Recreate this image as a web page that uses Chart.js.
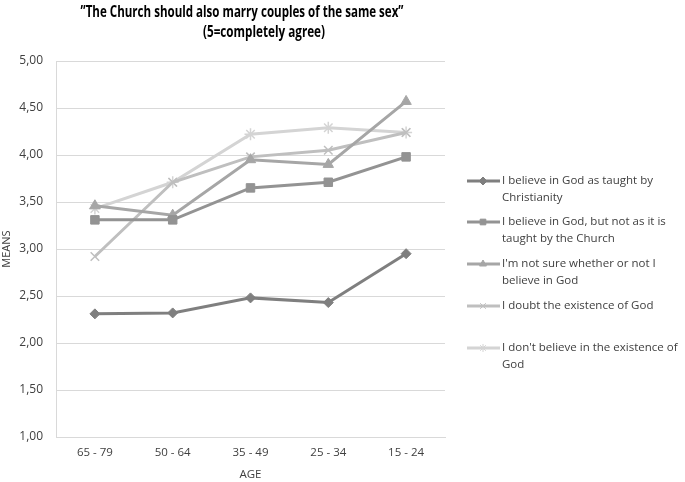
<!DOCTYPE html>
<html>
<head>
<meta charset="utf-8">
<script src="https://cdn.jsdelivr.net/npm/chart.js@4.4.1/dist/chart.umd.min.js"></script>
<style>
  html, body { margin: 0; padding: 0; background: #fff; }
  #wrap { width: 685px; height: 482px; }
</style>
</head>
<body>
<div id="wrap"><canvas id="line_chart" width="685" height="482"></canvas></div>
<script>
var ages = ['65 - 79', '50 - 64', '35 - 49', '25 - 34', '15 - 24'];
var seriesNames = [
    ['I believe in God as taught by', 'Christianity'],
    ['I believe in God, but not as it is', 'taught by the Church'],
    ["I'm not sure whether or not I", 'believe in God'],
    ['I doubt the existence of God'],
    ["I don't believe in the existence of", 'God']
];
var godTaught = [2.31, 2.32, 2.48, 2.43, 2.95];
var godNotChurch = [3.31, 3.31, 3.65, 3.71, 3.98];
var notSure = [3.46, 3.36, 3.95, 3.90, 4.57];
var doubtGod = [2.92, 3.71, 3.98, 4.05, 4.24];
var noGod = [3.43, 3.71, 4.22, 4.29, 4.24];
var yTicks = [1, 1.5, 2, 2.5, 3, 3.5, 4, 4.5, 5];

var colors = ['#7f7f7f', '#939393', '#a6a6a6', '#bfbfbf', '#d4d4d4'];
var styles = ['rectRot', 'rect', 'triangle', 'crossRot', 'star'];
var sizes = [5, 6, 6, 6, 6];
var fontName = "'Open Sans', 'Liberation Sans', sans-serif";

function makeSet(i, values){
    return {
        label: seriesNames[i].join(' '),
        data: values,
        borderColor: colors[i],
        backgroundColor: colors[i],
        pointStyle: styles[i],
        pointRadius: sizes[i],
        pointHoverRadius: sizes[i],
        pointBorderWidth: (styles[i] === 'crossRot' || styles[i] === 'star') ? 1.5 : 1,
        borderWidth: 3,
        tension: 0
    };
}

// text squeezed to a given width, the original title font is a narrow one
function fitText(ctx, text, cx, cy, w){
    var m = ctx.measureText(text).width;
    ctx.save();
    ctx.translate(cx, cy);
    ctx.scale(w / m, 1);
    ctx.fillText(text, 0, 0);
    ctx.restore();
}

// titles and legend drawn by hand, like the original Excel chart
var sideLegend = {
    id: 'sideLegend',
    afterDraw: function(chart){
        var ctx = chart.ctx;
        ctx.save();
        ctx.fillStyle = '#000';
        ctx.textAlign = 'center';
        ctx.textBaseline = 'middle';
        ctx.font = 'bold 16px ' + fontName;
        fitText(ctx, '\u201DThe Church should also marry couples of the same sex\u201D', 242, 12, 323);
        fitText(ctx, '(5=completely agree)', 264, 32, 122);

        var rows = [181, 222, 264, 306, 348];
        ctx.font = '11.5px ' + fontName;
        ctx.textAlign = 'left';
        chart.data.datasets.forEach(function(ds, i){
            var y = rows[i];
            ctx.strokeStyle = ds.borderColor;
            ctx.fillStyle = ds.backgroundColor;
            ctx.lineWidth = 3;
            ctx.beginPath();
            ctx.moveTo(467, y);
            ctx.lineTo(500, y);
            ctx.stroke();
            ctx.lineWidth = 1;
            Chart.helpers.drawPoint(ctx, {
                pointStyle: ds.pointStyle, radius: 4, rotation: 0,
                borderWidth: ds.pointBorderWidth
            }, 483, y);
            ctx.fillStyle = '#404040';
            seriesNames[i].forEach(function(t, k){
                ctx.fillText(t, 502, y + k * 17);
            });
        });
        ctx.restore();
    }
};

var config = {
    type: 'line',
    data: {
        labels: ages,
        datasets: [
            makeSet(0, godTaught),
            makeSet(1, godNotChurch),
            makeSet(2, notSure),
            makeSet(3, doubtGod),
            makeSet(4, noGod)
        ]
    },
    options: {
        responsive: false,
        animation: false,
        devicePixelRatio: 1,
        layout: { padding: { left: 0, top: 61, right: 240, bottom: 0 } },
        plugins: {
            legend: { display: false },
            title: { display: false },
            tooltip: { enabled: false }
        },
        scales: {
            x: {
                offset: true,
                grid: { display: false, drawTicks: false },
                border: { color: '#d9d9d9' },
                ticks: { color: '#404040', font: { family: fontName, size: 11.5 }, padding: 9 },
                title: { display: true, text: 'AGE', color: '#404040', font: { family: fontName, size: 11.5 }, padding: { top: 3, bottom: 0 } },
                afterFit: function(s){ s.height = 45; }
            },
            y: {
                min: 1,
                max: 5,
                afterBuildTicks: function(s){ s.ticks = yTicks.map(function(v){ return { value: v }; }); },
                grid: { color: '#d9d9d9', lineWidth: 1, drawTicks: false },
                border: { color: '#d9d9d9' },
                ticks: {
                    color: '#404040',
                    font: { family: fontName, size: 12 },
                    padding: 13,
                    callback: function(v){ return v.toFixed(2).replace('.', ','); }
                },
                title: { display: true, text: 'MEANS', color: '#404040', font: { family: fontName, size: 11 }, padding: 0 },
                afterFit: function(s){ s.width = 56; }
            }
        }
    },
    plugins: [sideLegend]
};

var chart = new Chart(document.getElementById('line_chart').getContext('2d'), config);
</script>
</body>
</html>
